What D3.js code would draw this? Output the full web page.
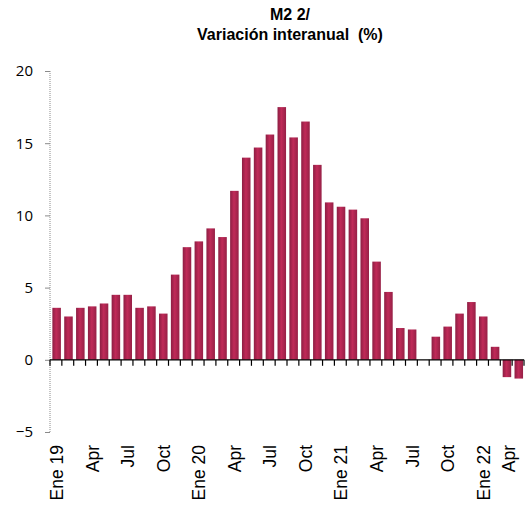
<!DOCTYPE html>
<html>
<head>
<meta charset="utf-8">
<script src="https://cdn.jsdelivr.net/npm/d3@7"></script>
<style>
  body { margin: 0; background: #fff; }
  svg { display: block; }
</style>
</head>
<body>
<div id="chart"></div>
<script>
(function () {
    'use strict';

    // months Ene 19 .. Apr 22
    var months = ["2019-01", "2019-02", "2019-03", "2019-04", "2019-05", "2019-06",
        "2019-07", "2019-08", "2019-09", "2019-10", "2019-11", "2019-12",
        "2020-01", "2020-02", "2020-03", "2020-04", "2020-05", "2020-06",
        "2020-07", "2020-08", "2020-09", "2020-10", "2020-11", "2020-12",
        "2021-01", "2021-02", "2021-03", "2021-04", "2021-05", "2021-06",
        "2021-07", "2021-08", "2021-09", "2021-10", "2021-11", "2021-12",
        "2022-01", "2022-02", "2022-03", "2022-04"];

    // M2, variación interanual (%) -- Ago 21 has no bar
    var m2Values = [3.6, 3.0, 3.6, 3.7, 3.9, 4.5, 4.5, 3.6, 3.7, 3.2, 5.9, 7.8,
        8.2, 9.1, 8.5, 11.7, 14.0, 14.7, 15.6, 17.5, 15.4, 16.5, 13.5, 10.9,
        10.6, 10.4, 9.8, 6.8, 4.7, 2.2, 2.1, null, 1.6, 2.3, 3.2, 4.0,
        3.0, 0.9, -1.2, -1.3];

    var xTickLabels = {
        "2019-01": "Ene 19", "2019-04": "Apr", "2019-07": "Jul", "2019-10": "Oct",
        "2020-01": "Ene 20", "2020-04": "Apr", "2020-07": "Jul", "2020-10": "Oct",
        "2021-01": "Ene 21", "2021-04": "Apr", "2021-07": "Jul", "2021-10": "Oct",
        "2022-01": "Ene 22", "2022-04": "Apr"
    };

    var yTicks = [-5, 0, 5, 10, 15, 20];

    var data = months.map(function (m, i) {
        return {month: m, value: m2Values[i]};
    });

    var width = 527, height = 511;
    var left = 50, right = 524, top = 71, bottom = 432;

    var svg = d3.select("#chart")
        .append("svg")
        .attr("width", width)
        .attr("height", height);

    var x = d3.scaleBand()
        .domain(months)
        .range([left, right])
        .padding(0);

    var y = d3.scaleLinear()
        .domain([-5, 20])
        .range([bottom, top]);

    // bar shading
    var grad = svg.append("defs").append("linearGradient")
        .attr("id", "barGrad")
        .attr("x1", "0").attr("x2", "1").attr("y1", "0").attr("y2", "0");
    grad.append("stop").attr("offset", "0%").attr("stop-color", "#8c1e43");
    grad.append("stop").attr("offset", "45%").attr("stop-color", "#c02a58");
    grad.append("stop").attr("offset", "100%").attr("stop-color", "#962046");

    // title
    svg.append("text")
        .attr("x", 290).attr("y", 20)
        .attr("text-anchor", "middle")
        .style("font", "bold 16px 'Liberation Sans', Arial, sans-serif")
        .text("M2 2/");
    svg.append("text")
        .attr("x", 290).attr("y", 40)
        .attr("text-anchor", "middle")
        .style("font", "bold 16px 'Liberation Sans', Arial, sans-serif")
        .style("white-space", "pre")
        .text("Variación interanual  (%)");

    // y axis (dotted grey line)
    var yAxis = d3.axisLeft(y)
        .tickValues(yTicks)
        .tickSize(5)
        .tickPadding(12);
    var yg = svg.append("g")
        .attr("transform", "translate(" + left + ",0)")
        .call(yAxis);
    yg.select(".domain")
        .attr("stroke", "#8a8a8a")
        .attr("stroke-dasharray", "1,1")
        .attr("d", "M0," + top + "V" + bottom);
    yg.selectAll(".tick line").attr("stroke", "#8a8a8a");
    yg.selectAll(".tick text")
        .style("font", "15px 'Open Sans', 'Noto Sans', sans-serif")
        .attr("fill", "#000");

    // bars
    var bw = x.bandwidth();
    svg.selectAll("rect.bar")
        .data(data.filter(function (d) { return d.value !== null; }))
        .enter()
        .append("rect")
        .attr("class", "bar")
        .attr("x", function (d) { return x(d.month) + bw * 0.2; })
        .attr("width", bw * 0.72)
        .attr("y", function (d) { return y(Math.max(0, d.value)); })
        .attr("height", function (d) { return Math.abs(y(d.value) - y(0)); })
        .attr("fill", "url(#barGrad)");

    // zero line with ticks at category boundaries
    var zero = y(0);
    svg.append("line")
        .attr("x1", left).attr("x2", right)
        .attr("y1", zero).attr("y2", zero)
        .attr("stroke", "#000").attr("stroke-width", 1.2);
    svg.selectAll("line.xtick")
        .data(months.concat(["end"]))
        .enter()
        .append("line")
        .attr("class", "xtick")
        .attr("x1", function (d) { return d === "end" ? right : x(d); })
        .attr("x2", function (d) { return d === "end" ? right : x(d); })
        .attr("y1", zero).attr("y2", zero + 6)
        .attr("stroke", "#000").attr("stroke-width", 1.2);

    // x labels (rotated); last one nudged in so it stays on the page
    svg.selectAll("text.xlab")
        .data(months.filter(function (m) { return xTickLabels[m]; }))
        .enter()
        .append("text")
        .attr("class", "xlab")
        .attr("transform", function (d) {
            var cx = Math.min(x(d) + bw / 2 + 1, width - 18);
            return "translate(" + cx + ",445) rotate(-90)";
        })
        .attr("dy", "0.35em")
        .attr("text-anchor", "end")
        .style("font", "17.5px 'Liberation Sans', Arial, sans-serif")
        .text(function (d) { return xTickLabels[d]; });
}());
</script>
</body>
</html>
